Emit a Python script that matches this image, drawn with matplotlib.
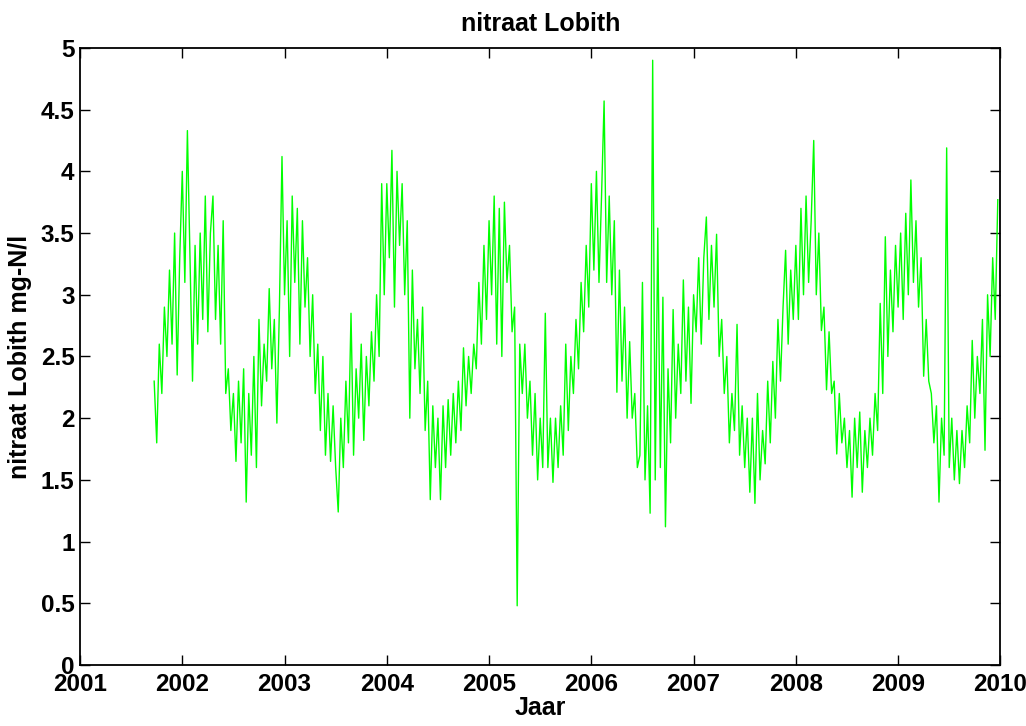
import numpy as np
import matplotlib
matplotlib.use("Agg")
import matplotlib.pyplot as plt

# nitraat Lobith (mg-N/l), ~40 samples per year
# 2001 starts in late september (sample 29 of 40)
y2001 = [2.3, 1.8, 2.6, 2.2, 2.9, 2.5, 3.2, 2.6, 3.5, 2.35, 3.3]
y2002 = [4.0, 3.1, 4.33, 3.3, 2.3, 3.4, 2.6, 3.5, 2.8, 3.8,
         2.7, 3.5, 3.8, 2.8, 3.4, 2.6, 3.6, 2.2, 2.4, 1.9,
         2.2, 1.65, 2.3, 1.8, 2.4, 1.32, 2.2, 1.7, 2.5, 1.6,
         2.8, 2.1, 2.6, 2.3, 3.05, 2.4, 2.8, 1.96, 2.9, 4.12]
y2003 = [3.0, 3.6, 2.5, 3.8, 3.1, 3.7, 2.6, 3.6, 2.9, 3.3,
         2.5, 3.0, 2.2, 2.6, 1.9, 2.5, 1.7, 2.2, 1.65, 2.1,
         1.6, 1.24, 2.0, 1.6, 2.3, 1.8, 2.85, 1.7, 2.4, 2.0,
         2.6, 1.82, 2.5, 2.1, 2.7, 2.3, 3.0, 2.5, 3.9, 3.0]
y2004 = [3.9, 3.3, 4.17, 2.9, 4.0, 3.4, 3.9, 3.0, 3.6, 2.0,
         3.2, 2.4, 2.8, 2.2, 2.9, 1.9, 2.3, 1.34, 2.1, 1.6,
         2.0, 1.34, 2.1, 1.6, 2.15, 1.7, 2.2, 1.8, 2.3, 1.9,
         2.57, 2.1, 2.5, 2.2, 2.6, 2.4, 3.1, 2.6, 3.4, 2.8]
y2005 = [3.6, 3.0, 3.8, 2.6, 3.7, 2.5, 3.75, 3.1, 3.4, 2.7,
         2.9, 0.48, 2.6, 2.2, 2.6, 2.0, 2.3, 1.7, 2.2, 1.5,
         2.0, 1.6, 2.85, 1.6, 2.0, 1.48, 2.0, 1.6, 2.1, 1.7,
         2.6, 1.9, 2.5, 2.2, 2.8, 2.4, 3.1, 2.7, 3.4, 2.9]
y2006 = [3.9, 3.2, 4.0, 3.1, 3.8, 4.57, 3.1, 3.8, 3.0, 3.6,
         2.21, 3.2, 2.3, 2.9, 2.0, 2.62, 2.0, 2.2, 1.6, 1.7,
         3.1, 1.5, 2.1, 1.23, 4.9, 1.5, 3.54, 1.6, 2.98, 1.12,
         2.4, 1.8, 2.88, 2.0, 2.6, 2.2, 3.12, 2.3, 2.9, 2.12]
y2007 = [3.0, 2.7, 3.3, 2.6, 3.3, 3.63, 2.8, 3.4, 2.9, 3.49,
         2.5, 2.8, 2.2, 2.5, 1.8, 2.2, 1.9, 2.76, 1.7, 2.1,
         1.6, 2.0, 1.4, 2.0, 1.31, 2.2, 1.5, 1.9, 1.63, 2.3,
         1.8, 2.46, 2.0, 2.8, 2.3, 2.9, 3.36, 2.6, 3.2, 2.8]
y2008 = [3.4, 2.8, 3.7, 3.0, 3.8, 3.1, 3.6, 4.25, 3.0, 3.5,
         2.71, 2.9, 2.23, 2.7, 2.2, 2.3, 1.71, 2.2, 1.8, 2.0,
         1.6, 1.9, 1.36, 2.0, 1.6, 2.05, 1.4, 1.9, 1.6, 2.0,
         1.7, 2.2, 1.9, 2.93, 2.2, 3.47, 2.5, 3.2, 2.7, 3.4]
y2009 = [2.9, 3.5, 2.8, 3.66, 3.0, 3.93, 3.1, 3.6, 2.9, 3.3,
         2.34, 2.8, 2.3, 2.2, 1.8, 2.1, 1.32, 2.0, 1.7, 4.19,
         1.6, 2.0, 1.5, 1.9, 1.47, 1.9, 1.6, 2.1, 1.8, 2.63,
         2.0, 2.5, 2.2, 2.8, 1.74, 3.0, 2.5, 3.3, 2.8, 3.77]

years = [2001, 2002, 2003, 2004, 2005, 2006, 2007, 2008, 2009]
series = [y2001, y2002, y2003, y2004, y2005, y2006, y2007, y2008, y2009]

# build time axis (decimal years), samples per year = 40
t = []
v = []
for yr, vals in zip(years, series):
    start = 40 - len(vals)
    for i, val in enumerate(vals):
        t.append(yr + (start + i) / 40.0)
        v.append(val)

plt.rcParams['font.family'] = ['Liberation Sans', 'DejaVu Sans']
plt.rcParams['font.weight'] = 'bold'

fig = plt.figure(figsize=(10.26, 7.26), dpi=100)
ax = fig.add_axes([0.078, 0.084, 0.897, 0.850])
ax.plot(t, v, color=(0, 1, 0), linewidth=1.0)

ax.set_xlim(2001, 2010)
ax.set_ylim(0, 5)
ax.set_xticks(np.arange(2001, 2011))
ax.set_xticklabels([str(y) for y in range(2001, 2011)])
yt = np.arange(0, 5.01, 0.5)
ax.set_yticks(yt)
ax.set_yticklabels(['%g' % y for y in yt])
ax.tick_params(direction='in', length=7, width=1, top=True, right=True,
               labelsize=17.5)
ax.tick_params(axis='x', pad=6)
ax.tick_params(axis='y', pad=4)
for s in ax.spines.values():
    s.set_linewidth(1.3)

ax.set_title("nitraat Lobith", fontsize=18, fontweight='bold', pad=12)
ax.set_xlabel("Jaar", fontsize=18, fontweight='bold', labelpad=0)
ax.set_ylabel("nitraat Lobith mg-N/l", fontsize=18, fontweight='bold', labelpad=6)

fig.savefig("out.png", dpi=100)
